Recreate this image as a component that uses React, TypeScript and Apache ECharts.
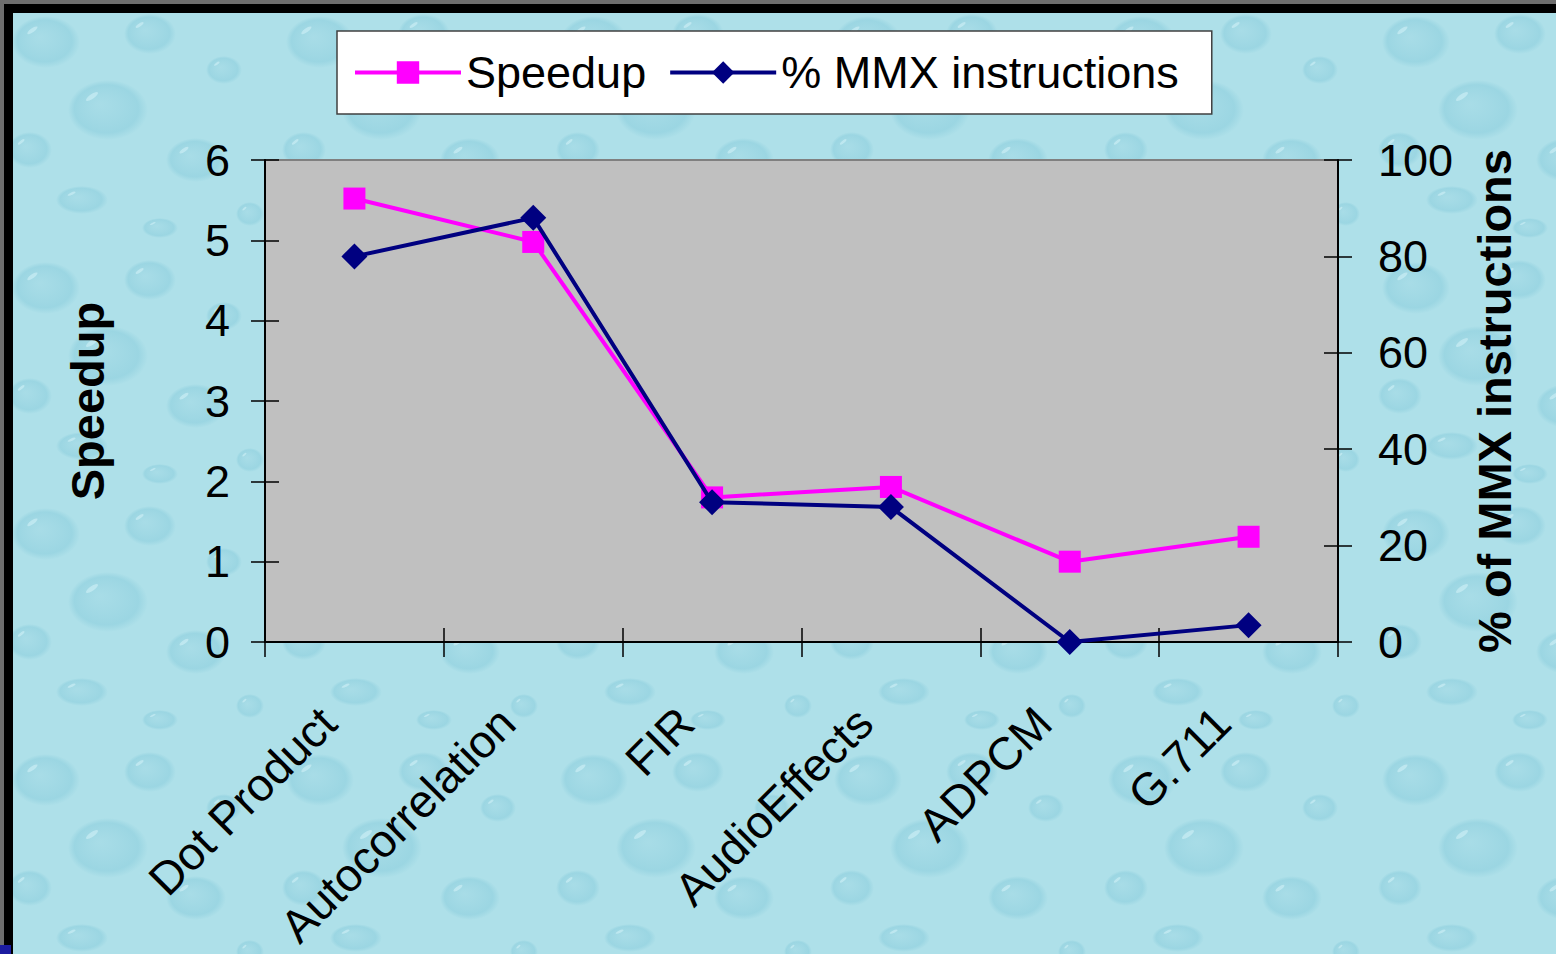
import { useEffect, useRef } from "react";
import * as echarts from "echarts";

// Benchmarks on the category axis
const categories = ["Dot Product", "Autocorrelation", "FIR", "AudioEffects", "ADPCM", "G.711"];
// Speedup factor (left axis)
const speedup = [5.52, 4.98, 1.8, 1.93, 1.0, 1.31];
// Share of MMX instructions in percent (right axis)
const mmxPercent = [80, 88, 29, 28, 0, 3.5];

// Axis ranges
const speedupAxis = { min: 0, max: 6, interval: 1 };
const percentAxis = { min: 0, max: 100, interval: 20 };

// Water-drop backdrop tile: [x, y, rx, ry]
const drops: [number, number, number, number][] = [
  [46, 42, 34, 26],
  [150, 34, 26, 20],
  [224, 70, 18, 14],
  [108, 110, 40, 30],
  [30, 150, 22, 18],
  [196, 160, 30, 22],
  [82, 200, 26, 14],
  [250, 214, 14, 12],
  [160, 228, 18, 10],
];

const FONT = "'Liberation Sans', Arial, sans-serif";

function makeBackdrop(): string {
  const c = document.createElement("canvas");
  c.width = 274;
  c.height = 246;
  const ctx = c.getContext("2d");
  if (!ctx) return "";
  ctx.fillStyle = "#aee0e9";
  ctx.fillRect(0, 0, c.width, c.height);
  for (const [x, y, rx, ry] of drops) {
    ctx.save();
    ctx.translate(x, y);
    ctx.scale(1, ry / rx);
    const g = ctx.createRadialGradient(-rx * 0.2, -rx * 0.2, 0, 0, 0, rx);
    g.addColorStop(0, "rgba(150,210,225,0.25)");
    g.addColorStop(0.8, "rgba(120,195,214,0.35)");
    g.addColorStop(1, "rgba(120,195,214,0)");
    ctx.fillStyle = g;
    ctx.beginPath();
    ctx.arc(0, 0, rx, 0, Math.PI * 2);
    ctx.fill();
    ctx.fillStyle = "rgba(225,248,252,0.45)";
    ctx.beginPath();
    ctx.ellipse(-rx * 0.4, -rx * 0.45, rx * 0.2, rx * 0.07, -Math.PI / 4, 0, Math.PI * 2);
    ctx.fill();
    ctx.restore();
  }
  return c.toDataURL();
}

export default function App() {
  const ref = useRef<HTMLDivElement>(null);

  useEffect(() => {
    if (!ref.current) return;
    const bg = makeBackdrop();
    if (bg) {
      ref.current.style.backgroundImage = `url(${bg})`;
      ref.current.style.backgroundRepeat = "repeat";
    }
    const chart = echarts.init(ref.current, undefined, { renderer: "svg" });

    const tickStyle = { color: "#000", width: 1.5 };

    const option: any = {
      animation: false,
      backgroundColor: "transparent",
      textStyle: { fontFamily: FONT },
      graphic: [
        { type: "rect", shape: { x: 0, y: 0, width: 1556, height: 4 }, style: { fill: "#6e6e6e" }, silent: true },
        { type: "rect", shape: { x: 0, y: 0, width: 4, height: 954 }, style: { fill: "#6e6e6e" }, silent: true },
        { type: "rect", shape: { x: 4, y: 4, width: 1552, height: 9 }, style: { fill: "#000" }, silent: true },
        { type: "rect", shape: { x: 4, y: 4, width: 9, height: 950 }, style: { fill: "#000" }, silent: true },
        { type: "rect", shape: { x: 0, y: 945, width: 11, height: 9 }, style: { fill: "#1c1ca0" }, silent: true },
      ],
      legend: {
        left: 337,
        top: 31,
        orient: "horizontal",
        itemWidth: 106,
        itemHeight: 28,
        itemGap: 22,
        padding: [19, 33, 19, 16],
        backgroundColor: "#ffffff",
        borderColor: "#404040",
        borderWidth: 1.5,
        borderRadius: 0,
        lineStyle: { width: 4 },
        textStyle: { fontSize: 45, color: "#000", fontFamily: FONT },
        data: ["Speedup", "% MMX instructions"],
      },
      grid: {
        left: 265,
        right: 218,
        top: 160,
        bottom: 312,
        show: true,
        backgroundColor: "#c0c0c0",
        borderColor: "#808080",
        borderWidth: 2,
      },
      xAxis: [
        {
          type: "category",
          data: categories,
          boundaryGap: true,
          position: "bottom",
          axisLine: { show: true, lineStyle: { color: "#000", width: 2 } },
          axisTick: { show: true, length: 15, lineStyle: tickStyle },
          axisLabel: {
            interval: 0,
            rotate: 45,
            fontSize: 46,
            color: "#000",
            fontFamily: FONT,
            margin: 47,
            padding: [0, 37, 0, 0],
          },
          splitLine: { show: false },
        },
        {
          type: "category",
          data: categories,
          boundaryGap: true,
          position: "bottom",
          axisLine: { show: false },
          axisTick: { show: true, inside: true, length: 14, lineStyle: tickStyle },
          axisLabel: { show: false },
          splitLine: { show: false },
        },
      ],
      yAxis: [
        {
          type: "value",
          position: "left",
          ...speedupAxis,
          axisLine: { show: true, lineStyle: { color: "#000", width: 2 } },
          axisTick: { show: true, length: 14, lineStyle: tickStyle },
          axisLabel: { fontSize: 45, color: "#000", margin: 35, fontFamily: FONT },
          splitLine: { show: false },
          name: "Speedup",
          nameLocation: "middle",
          nameRotate: 90,
          nameGap: 154,
          nameTextStyle: { fontSize: 47, fontWeight: "bold", color: "#000", fontFamily: FONT },
        },
        {
          type: "value",
          position: "right",
          ...percentAxis,
          axisLine: { show: true, lineStyle: { color: "#000", width: 2 } },
          axisTick: { show: true, length: 14, lineStyle: tickStyle },
          axisLabel: { fontSize: 45, color: "#000", margin: 40, fontFamily: FONT },
          splitLine: { show: false },
          name: "% of MMX instructions",
          nameLocation: "middle",
          nameRotate: 90,
          nameGap: 133,
          nameTextStyle: { fontSize: 47, fontWeight: "bold", color: "#000", fontFamily: FONT },
        },
        {
          type: "value",
          position: "left",
          ...speedupAxis,
          axisLine: { show: false },
          axisTick: { show: true, inside: true, length: 14, lineStyle: tickStyle },
          axisLabel: { show: false },
          splitLine: { show: false },
        },
        {
          type: "value",
          position: "right",
          ...percentAxis,
          axisLine: { show: false },
          axisTick: { show: true, inside: true, length: 14, lineStyle: tickStyle },
          axisLabel: { show: false },
          splitLine: { show: false },
        },
      ],
      series: [
        {
          name: "Speedup",
          type: "line",
          xAxisIndex: 0,
          yAxisIndex: 0,
          data: speedup,
          symbol: "rect",
          symbolSize: 22,
          lineStyle: { color: "#ff00ff", width: 4 },
          itemStyle: { color: "#ff00ff" },
          z: 3,
        },
        {
          name: "% MMX instructions",
          type: "line",
          xAxisIndex: 0,
          yAxisIndex: 1,
          data: mmxPercent,
          symbol: "diamond",
          symbolSize: 26,
          lineStyle: { color: "#000080", width: 4 },
          itemStyle: { color: "#000080" },
          z: 4,
        },
      ],
    };

    chart.setOption(option);
    return () => chart.dispose();
  }, []);

  return (
    <div
      ref={ref}
      style={{ position: "absolute", left: 0, top: 0, width: 1556, height: 954, backgroundColor: "#aadde6" }}
    />
  );
}
